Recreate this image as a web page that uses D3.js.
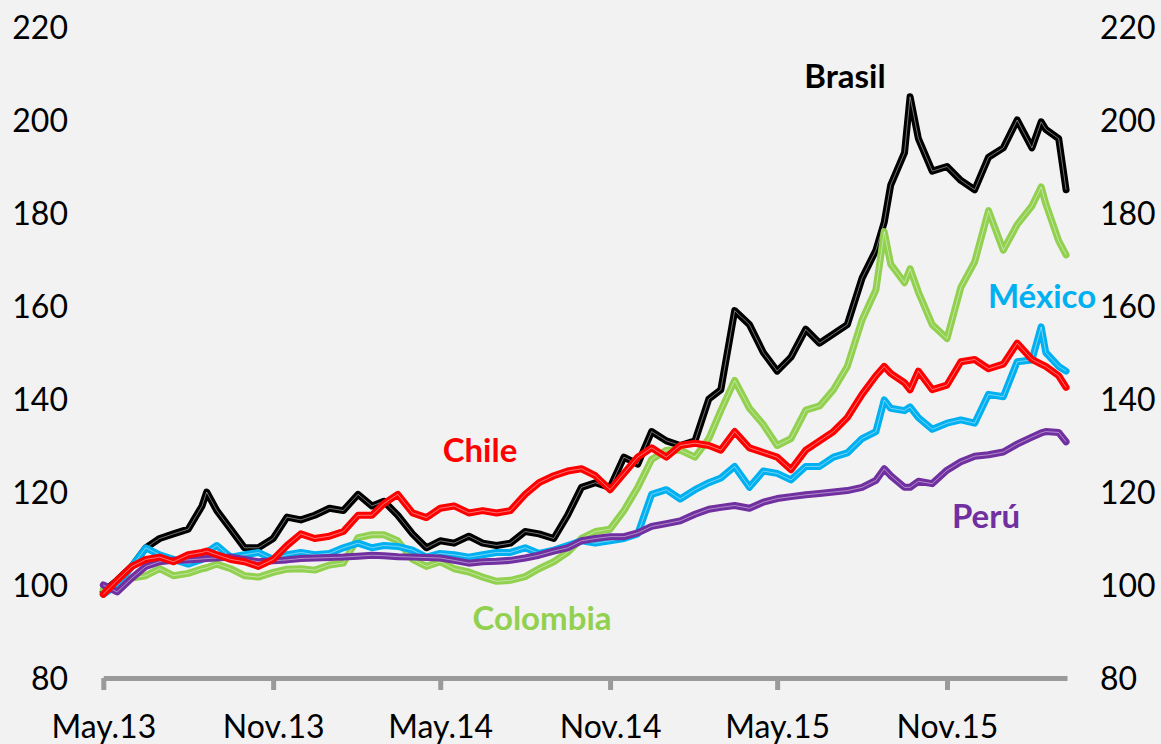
<!DOCTYPE html>
<html>
<head>
<meta charset="utf-8">
<script src="https://cdn.jsdelivr.net/npm/d3@7"></script>
<style>
  body { margin: 0; background: #f2f2f2; }
  svg { display: block; font-family: Lato, "Open Sans", sans-serif; }
</style>
</head>
<body>
<div id="chart"></div>
<script>
//semi-monthly dates, May.13 - Mar.16 (plus a few peak days)
const dates = [
  "2013-05-01","2013-05-16","2013-06-01","2013-06-16","2013-07-01","2013-07-16","2013-08-01","2013-08-16","2013-08-21",
  "2013-09-01","2013-09-16","2013-10-01","2013-10-16","2013-11-01","2013-11-16","2013-12-01","2013-12-16",
  "2014-01-01","2014-01-16","2014-02-01","2014-02-16","2014-03-01","2014-03-16","2014-04-01","2014-04-16",
  "2014-05-01","2014-05-16","2014-06-01","2014-06-16","2014-07-01","2014-07-16","2014-08-01","2014-08-16",
  "2014-09-01","2014-09-16","2014-10-01","2014-10-16","2014-11-01","2014-11-16","2014-12-01","2014-12-16",
  "2015-01-01","2015-01-16","2015-02-01","2015-02-16","2015-03-01","2015-03-16","2015-04-01","2015-04-16",
  "2015-05-01","2015-05-16","2015-06-01","2015-06-16","2015-07-01","2015-07-16","2015-08-01","2015-08-16","2015-08-25",
  "2015-09-01","2015-09-16","2015-09-22","2015-10-01","2015-10-16","2015-11-01","2015-11-16","2015-12-01","2015-12-16",
  "2016-01-01","2016-01-16","2016-02-01","2016-02-11","2016-02-16","2016-03-01","2016-03-09"
];

const brasil = [
  98.5, 101, 104, 108, 110, 111, 112, 117, 120, 116, 112, 108, 108, 110, 114.6, 114, 115,
  116.5, 116, 119.5, 117, 118, 115, 111, 108, 109.5, 109, 110.5, 109, 108.5, 109, 111.5, 111,
  110, 115, 121, 122, 121, 127.5, 126, 133,
  131, 130, 131, 140, 142, 159, 156, 150, 146, 149, 155, 152, 154, 156, 166, 172, 178,
  186, 193, 205, 196, 189, 190, 187, 185, 192,
  194, 200, 194, 199.6, 198, 196, 185
];
const colombia = [
  99, 100, 101.5, 102, 103.5, 102, 102.5, 103.5, 103.7, 104.5, 103.5, 102, 101.7, 102.7, 103.4, 103.5, 103.2,
  104.3, 104.7, 110.2, 110.8, 110.8, 109.5, 105.5, 104, 105, 103.5, 102.8, 101.7, 100.8, 101, 101.8, 103.5,
  105, 107, 110, 111.5, 112, 116, 121, 127,
  129, 129, 127.5, 131.5, 137.5, 144, 138, 134.5, 130, 131.5, 137.6, 138.5, 142, 147, 157, 163.5, 176,
  169, 165, 168, 163, 156, 153, 164, 169.5, 180.5,
  172, 177.5, 181.5, 185.6, 182, 174, 171
];
const mexico = [
  98, 100, 104, 108, 106.5, 105.5, 104.5, 105.5, 107, 108.5, 106, 106.5, 107, 105.5, 106.5, 107, 106.5,
  106.8, 108, 109, 108, 108.5, 108.3, 107.5, 106, 106.8, 106.5, 106, 106.5, 107, 107, 108, 106.8,
  107.5, 108.5, 109.5, 109, 109.5, 110, 111, 119.5,
  120.5, 118.5, 120.5, 122, 123, 125.5, 121, 124.5, 124, 122.6, 125.5, 125.5, 127.5, 128.4, 131.5, 133, 139.8,
  138, 137.5, 138.3, 136, 133.5, 134.8, 135.5, 134.8, 141,
  140.5, 148, 148.4, 155.5, 150, 147, 146
];
const peru = [
  100, 98.5, 101.5, 104, 105, 105.3, 105.4, 105.6, 105.7, 105.8, 106, 105.5, 105, 105.2, 105.4, 105.7, 105.8,
  105.9, 106, 106.2, 106.4, 106.3, 106.1, 106, 105.9, 105.8, 105.3, 104.7, 105, 105.1, 105.3, 105.8, 106.4,
  107.3, 108, 109.5, 110, 110.4, 110.4, 111.2, 112.6,
  113.2, 113.8, 115.2, 116.3, 116.7, 117.1, 116.5, 117.8, 118.6, 119, 119.4, 119.7, 120, 120.3, 121, 122.5, 125,
  123.5, 121, 121, 122.3, 121.8, 124.7, 126.5, 127.7, 128,
  128.6, 130.3, 131.8, 132.7, 133, 132.8, 130.8
];
const chile = [
  98, 101, 104, 105.5, 106, 105, 106.5, 107, 107.3, 106.5, 105.5, 105, 104, 105.5, 108.5, 111, 110,
  110.5, 111.5, 115, 115, 117.5, 119.5, 115.5, 114.5, 116.5, 117, 115.5, 116, 115.5, 116, 119.5, 122,
  123.5, 124.5, 125, 123.5, 120.5, 124, 127.5, 129.5,
  127.5, 130, 130.5, 130, 129, 133, 129.5, 128.5, 127.5, 124.8, 129, 131, 133, 136, 141, 145, 147,
  145.5, 143.5, 142, 146, 142, 143, 148, 148.5, 146.5,
  147.5, 152, 148.5, 147.5, 147, 145, 142.5
];

const seriesNames = ["Brasil", "Colombia", "México", "Perú", "Chile"];
const seriesValues = [brasil, colombia, mexico, peru, chile];
const seriesColors = ["#000000", "#92d050", "#00b0f0", "#7030a0", "#ff0000"];

const xTickDates = ["2013-05-01", "2013-11-01", "2014-05-01", "2014-11-01", "2015-05-01", "2015-11-01"];
const xTickLabels = ["May.13", "Nov.13", "May.14", "Nov.14", "May.15", "Nov.15"];
const yTicks = [80, 100, 120, 140, 160, 180, 200, 220];

//label positions (center x, baseline y)
const labelPos = {
  "Brasil": [845, 88],
  "México": [1042, 308],
  "Chile": [480, 462],
  "Perú": [986, 528],
  "Colombia": [542, 630]
};

const width = 1161;
const height = 744;
const parse = d3.timeParse("%Y-%m-%d");

const svg = d3.select("#chart")
  .append("svg")
  .attr("width", width)
  .attr("height", height);

svg.append("rect").attr("width", width).attr("height", height).attr("fill", "#f2f2f2");

const x = d3.scaleTime()
  .domain([parse("2013-05-01"), parse("2016-03-10")])
  .range([103.3, 1067]);
const y = d3.scaleLinear().domain([80, 220]).range([678, 27]);

//y axes (labels only)
const yLeft = svg.append("g")
  .attr("transform", "translate(68,0)")
  .call(d3.axisLeft(y).tickValues(yTicks).tickSize(0).tickPadding(0));
const yRight = svg.append("g")
  .attr("transform", "translate(1100,0)")
  .call(d3.axisRight(y).tickValues(yTicks).tickSize(0).tickPadding(0));
[yLeft, yRight].forEach((g) => {
  g.select(".domain").remove();
  g.selectAll("text")
    .attr("dy", "0.36em")
    .attr("fill", "#000")
    .style("font-size", "32px")
    .style("font-family", "Lato, sans-serif");
});

//x axis
const xAxis = svg.append("g")
  .attr("transform", "translate(0,678)")
  .call(
    d3.axisBottom(x)
      .tickValues(xTickDates.map(parse))
      .tickFormat((d, i) => xTickLabels[i])
      .tickSize(12)
      .tickSizeOuter(0)
  );
xAxis.select(".domain").attr("stroke", "#9a9a9a").attr("stroke-width", 5);
xAxis.selectAll(".tick line").attr("stroke", "#9a9a9a").attr("stroke-width", 5);
xAxis.selectAll(".tick text")
  .attr("y", 60)
  .attr("dy", 0)
  .attr("fill", "#000")
  .style("font-size", "32px")
  .style("font-family", "Lato, sans-serif");

//lines
const line = d3.line()
  .x((d) => x(d.date))
  .y((d) => y(d.value));

seriesNames.forEach((name, i) => {
  const pts = dates.map((d, j) => ({ date: parse(d), value: seriesValues[i][j] }));
  const g = svg.append("g").attr("class", "series");
  g.append("path")
    .attr("d", line(pts))
    .attr("fill", "none")
    .attr("stroke", seriesColors[i])
    .attr("stroke-width", 7)
    .attr("stroke-linejoin", "round")
    .attr("stroke-linecap", "round");
  //thin inner highlight (double line look)
  g.append("path")
    .attr("d", line(pts))
    .attr("fill", "none")
    .attr("stroke", "#ffffff")
    .attr("stroke-opacity", 0.45)
    .attr("stroke-width", 1);
});

//series labels
seriesNames.forEach((name, i) => {
  const [lx, ly] = labelPos[name];
  svg.append("text")
    .attr("x", lx)
    .attr("y", ly)
    .attr("text-anchor", "middle")
    .attr("fill", seriesColors[i])
    .style("font-size", "33px")
    .style("font-weight", "bold")
    .style("font-family", "Lato, sans-serif")
    .text(name);
});
</script>
</body>
</html>
